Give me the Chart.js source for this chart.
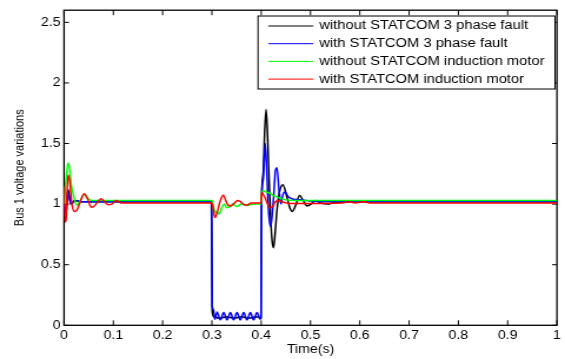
<!DOCTYPE html>
<html>
<head>
<meta charset="utf-8">
<script src="https://cdn.jsdelivr.net/npm/chart.js@4.4.1/dist/chart.umd.min.js"></script>
<style>
  html, body { margin: 0; padding: 0; background: #fff; }
</style>
</head>
<body>
<!-- the source figure is stretched sideways, so the canvas is drawn narrow and widened by css -->
<canvas id="bus1" width="480" height="359" style="width:565px;height:359px"></canvas>
<script>
// values: time (s) / bus 1 voltage (pu)
const seriesLabels = [
  "without STATCOM 3 phase fault",
  "with STATCOM 3 phase fault",
  "without STATCOM induction motor",
  "with STATCOM induction motor",
];
const seriesColors = ["#000000", "#0000ff", "#00ff00", "#ff0000"];

const tBlack = [0, 0.003, 0.008, 0.014, 0.022, 0.035, 0.299, 0.3005, 0.304, 0.315, 0.33, 0.345, 0.36, 0.375, 0.39, 0.3995,
  0.4005, 0.404, 0.407, 0.41, 0.413, 0.416, 0.419, 0.422, 0.425, 0.428, 0.432, 0.437, 0.444, 0.452, 0.458, 0.463, 0.47,
  0.478, 0.485, 0.493, 0.501, 0.51, 0.52, 0.535, 0.55, 0.6, 1];
const vBlack = [1.0, 0.88, 1.12, 1.0, 1.03, 1.02, 1.02, 0.12, 0.07, 0.06, 0.07, 0.06, 0.07, 0.06, 0.07, 0.06,
  1.0, 1.25, 1.6, 1.78, 1.55, 1.2, 0.9, 0.7, 0.64, 0.75, 0.95, 1.1, 1.16, 1.06, 0.97, 0.94, 0.99,
  1.07, 1.03, 0.985, 1.0, 1.03, 1.01, 1.0, 1.015, 1.02, 1.02];

const tBlue = [0, 0.003, 0.008, 0.014, 0.022, 0.035, 0.2995, 0.3005, 0.303, 0.306, 0.3105, 0.317, 0.324, 0.3305, 0.3375, 0.344,
  0.351, 0.3575, 0.3645, 0.371, 0.378, 0.3845, 0.3915, 0.398, 0.3995, 0.4005, 0.404, 0.408, 0.411, 0.414, 0.418, 0.421,
  0.425, 0.429, 0.432, 0.436, 0.44, 0.444, 0.448, 0.455, 0.465, 0.48, 0.5, 0.52, 1];
const vBlue = [1.0, 0.9, 1.1, 1.0, 1.03, 1.02, 1.02, 0.16, 0.13, 0.05, 0.11, 0.045, 0.105, 0.045, 0.105, 0.045,
  0.105, 0.045, 0.105, 0.045, 0.105, 0.045, 0.105, 0.05, 0.07, 1.0, 1.2, 1.5, 1.3, 1.0, 0.82, 0.86,
  1.05, 1.28, 1.3, 1.12, 1.0, 1.08, 1.1, 1.06, 1.04, 1.035, 1.025, 1.02, 1.02];

const tGreen = [0, 0.004, 0.008, 0.011, 0.015, 0.02, 0.026, 0.033, 0.041, 0.048, 0.056, 0.07,
  0.3, 0.305, 0.31, 0.315, 0.32, 0.325, 0.33, 0.336, 0.342, 0.35, 0.36, 0.37, 0.385, 0.3995,
  0.401, 0.405, 0.41, 0.418, 0.425, 0.432, 0.44, 0.45, 0.47, 1];
const vGreen = [1.0, 1.2, 1.34, 1.3, 1.15, 1.06, 0.99, 1.03, 1.08, 1.05, 1.03, 1.03,
  1.03, 0.95, 0.93, 0.92, 0.97, 1.0, 0.97, 0.98, 1.0, 0.98, 1.0, 0.99, 1.0, 1.0,
  1.1, 1.11, 1.1, 1.09, 1.07, 1.06, 1.045, 1.035, 1.03, 1.03];

const tRed = [0, 0.002, 0.004, 0.008, 0.011, 0.016, 0.021, 0.026, 0.033, 0.041,
  0.048, 0.055, 0.06, 0.067, 0.075, 0.082, 0.089, 0.097, 0.106, 0.115,
  0.13, 0.3, 0.303, 0.306, 0.31, 0.315, 0.319, 0.323, 0.328, 0.333,
  0.339, 0.346, 0.352, 0.358, 0.364, 0.37, 0.38, 0.3995, 0.401, 0.404,
  0.408, 0.413, 0.418, 0.423, 0.429, 0.435, 0.442, 0.45, 0.46,
  0.565, 0.577, 0.59, 0.607, 0.62, 1];
const vRed = [1.15, 0.85, 0.87, 1.24, 1.2, 1.0, 0.94, 0.95, 1.02, 1.085,
  1.04, 0.975, 0.98, 1.01, 1.045, 1.02, 0.995, 1.0, 1.03, 1.01,
  1.01, 1.01, 0.95, 0.89, 0.92, 1.0, 1.05, 1.075, 1.03, 0.99,
  0.985, 1.01, 1.03, 1.02, 1.0, 0.99, 1.01, 1.01, 1.1, 1.08,
  1.05, 1.0, 0.97, 0.98, 1.02, 1.03, 1.02, 1.01, 1.005,
  1.01, 1.02, 1.01, 1.02, 1.01, 1.01];

const xTicks = [0, 0.1, 0.2, 0.3, 0.4, 0.5, 0.6, 0.7, 0.8, 0.9, 1];
const xTickLabels = ["0", "0.1", "0.2", "0.3", "0.4", "0.5", "0.6", "0.7", "0.8", "0.9", "1"];
const yTicks = [0, 0.5, 1, 1.5, 2, 2.5];
const yTickLabels = ["0", "0.5", "1", "1.5", "2", "2.5"];

const pts = (t, v) => t.map((x, i) => ({ x: x, y: v[i] }));
const seriesPoints = [pts(tBlack, vBlack), pts(tBlue, vBlue), pts(tGreen, vGreen), pts(tRed, vRed)];

Chart.defaults.font.family = "'Liberation Sans', Arial, sans-serif";
Chart.defaults.color = "#000";

// matlab style box with inward ticks, and the boxed legend up right
const matlabFrame = {
  id: "matlabFrame",
  beforeDatasetsDraw(chart) {
    const { ctx, chartArea: a, scales } = chart;
    ctx.save();
    ctx.strokeStyle = "#000";
    ctx.lineWidth = 1.3;
    ctx.strokeRect(a.left, a.top, a.right - a.left, a.bottom - a.top);
    ctx.lineWidth = 1;
    ctx.beginPath();
    scales.x.ticks.forEach((t) => {
      const px = scales.x.getPixelForValue(t.value);
      ctx.moveTo(px, a.bottom);
      ctx.lineTo(px, a.bottom - 5);
      ctx.moveTo(px, a.top);
      ctx.lineTo(px, a.top + 5);
    });
    scales.y.ticks.forEach((t) => {
      const py = scales.y.getPixelForValue(t.value);
      ctx.moveTo(a.left, py);
      ctx.lineTo(a.left + 4.2, py);
      ctx.moveTo(a.right, py);
      ctx.lineTo(a.right - 4.2, py);
    });
    ctx.stroke();
    ctx.restore();
  },
  afterDraw(chart) {
    const ctx = chart.ctx;
    const box = { left: 219.2, top: 16, right: 471.5, bottom: 89 };
    ctx.save();
    ctx.fillStyle = "#fff";
    ctx.fillRect(box.left, box.top, box.right - box.left, box.bottom - box.top);
    ctx.strokeStyle = "#000";
    ctx.lineWidth = 1;
    ctx.strokeRect(box.left, box.top, box.right - box.left, box.bottom - box.top);
    ctx.font = "12.5px 'Liberation Sans', Arial, sans-serif";
    ctx.textBaseline = "middle";
    chart.data.datasets.forEach((ds, i) => {
      const y = box.top + 10 + i * 17.7;
      ctx.strokeStyle = ds.borderColor;
      ctx.beginPath();
      ctx.moveTo(228, y);
      ctx.lineTo(266.2, y);
      ctx.stroke();
      ctx.fillStyle = "#000";
      ctx.fillText(ds.label, 271.3, y);
    });
    ctx.restore();
  },
};

const ctx = document.getElementById("bus1").getContext("2d");
new Chart(ctx, {
  type: "line",
  data: {
    datasets: seriesLabels.map((label, i) => ({
      label: label,
      data: seriesPoints[i],
      borderColor: seriesColors[i],
      borderWidth: 1.5,
      pointRadius: 0,
      cubicInterpolationMode: "monotone",
      fill: false,
      order: seriesLabels.length - i,
    })),
  },
  options: {
    responsive: false,
    animation: false,
    layout: { padding: { top: 10, right: 4, left: 0, bottom: 0 } },
    plugins: {
      legend: { display: false },
      tooltip: { enabled: false },
    },
    scales: {
      x: {
        type: "linear",
        min: 0,
        max: 1,
        grid: { display: false, drawTicks: false },
        border: { display: false },
        afterBuildTicks: (s) => { s.ticks = xTicks.map((v) => ({ value: v })); },
        afterFit: (s) => { s.height = 33.7; },
        ticks: {
          padding: 3.5,
          maxRotation: 0,
          autoSkip: false,
          font: { size: 12 },
          callback: (v, i) => xTickLabels[i],
        },
        title: {
          display: true,
          text: "Time(s)",
          font: { size: 12 },
          padding: { top: 0, bottom: 2 },
        },
      },
      y: {
        min: 0,
        max: 2.6,
        grid: { display: false, drawTicks: false },
        border: { display: false },
        afterBuildTicks: (s) => { s.ticks = yTicks.map((v) => ({ value: v })); },
        afterFit: (s) => { s.width = 54.4; },
        ticks: {
          padding: 3,
          font: { size: 12 },
          callback: (v, i) => yTickLabels[i],
        },
        title: {
          display: true,
          text: "Bus 1 voltage variations",
          font: { size: 11 },
          padding: { top: 10.4, bottom: 0 },
        },
      },
    },
  },
  plugins: [matlabFrame],
});
</script>
</body>
</html>
